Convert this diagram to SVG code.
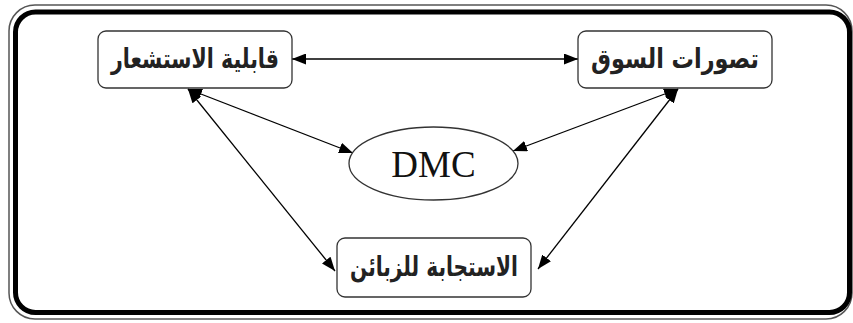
<svg xmlns="http://www.w3.org/2000/svg" width="853" height="323" viewBox="0 0 853 323">
  <defs>
    <marker id="arrow" viewBox="0 0 14 11" refX="14" refY="5.5" markerWidth="14" markerHeight="11" markerUnits="userSpaceOnUse" orient="auto-start-reverse">
      <path d="M0,0 L14,5.5 L0,11 Z" fill="#000"/>
    </marker>
  </defs>
  <style>
    .frame-outer { fill: none; stroke: #555; stroke-width: 1.5; }
    .frame-inner { fill: none; stroke: #000; stroke-width: 5; }
    .box { fill: #fff; stroke: #333; stroke-width: 1.3; }
    .ar { font-family: "DejaVu Sans", "Noto Sans", sans-serif; font-size: 27px; font-weight: bold; fill: #222; text-anchor: middle; direction: rtl; }
    .lat { font-family: "Liberation Serif", "Times New Roman", serif; font-size: 37px; fill: #111; text-anchor: middle; }
    .conn { stroke: #000; stroke-width: 1.3; fill: none; marker-start: url(#arrow); marker-end: url(#arrow); }
  </style>
  <rect width="853" height="323" fill="#fff"/>

  <!-- double frame -->
  <rect class="frame-outer" x="9" y="5" width="843" height="314" rx="26"/>
  <rect class="frame-inner" x="15.5" y="12" width="834" height="300.5" rx="20"/>

  <!-- connectors -->
  <g id="connectors">
    <line class="conn" x1="292" y1="59" x2="578" y2="59"/>
    <line class="conn" x1="188" y1="89" x2="353" y2="153"/>
    <line class="conn" x1="188" y1="89" x2="335" y2="271"/>
    <line class="conn" x1="678" y1="89" x2="513" y2="151"/>
    <line class="conn" x1="678" y1="89" x2="538" y2="269"/>
  </g>

  <g id="sensing">
    <rect class="box" x="98" y="31" width="194" height="57" rx="8"/>
    <text class="ar" x="195" y="68" textLength="168" lengthAdjust="spacingAndGlyphs">قابلية الاستشعار</text>
  </g>

  <g id="market">
    <rect class="box" x="578" y="31" width="194" height="57" rx="8"/>
    <text class="ar" x="675" y="68" textLength="168" lengthAdjust="spacingAndGlyphs">تصورات السوق</text>
  </g>

  <g id="dmc">
    <ellipse class="box" cx="433.5" cy="163.5" rx="84.5" ry="36.5"/>
    <text class="lat" x="433.5" y="177">DMC</text>
  </g>

  <g id="response">
    <rect class="box" x="337" y="238" width="194" height="59" rx="8"/>
    <text class="ar" x="434" y="276" textLength="168" lengthAdjust="spacingAndGlyphs">الاستجابة للزبائن</text>
  </g>
</svg>
